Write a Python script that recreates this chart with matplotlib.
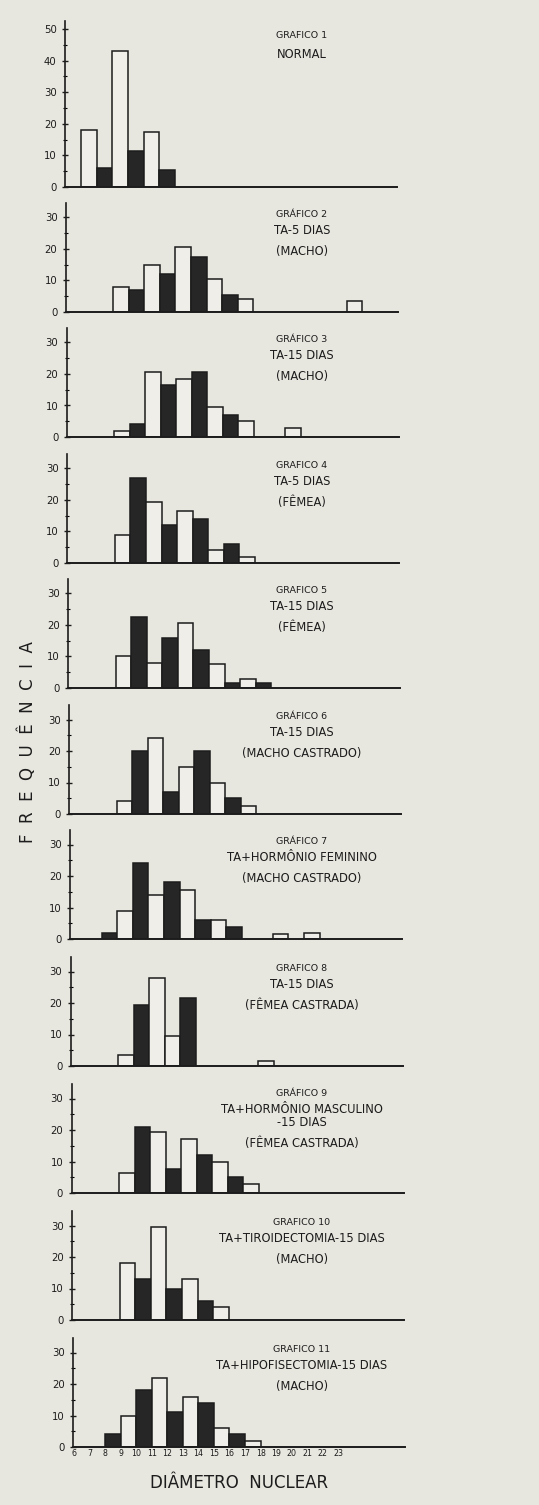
import numpy as np
import matplotlib.pyplot as plt

# frequencies per class of nuclear diameter
# each list starts at the class given in start_bins; 0 = no bar
start_bins = [7, 9, 9, 9, 9, 9, 8, 9, 9, 9, 8]

freq_1 = [18, 6, 43, 11.5, 17.5, 5.5]
freq_2 = [8, 7, 15, 12, 20.5, 17.5, 10.5, 5.5, 4, 0, 0, 0, 0, 0, 0, 3.5]
freq_3 = [2, 4, 20.5, 16.5, 18.5, 20.5, 9.5, 7, 5, 0, 0, 3]
freq_4 = [9, 27, 19.5, 12, 16.5, 14, 4, 6, 2]
freq_5 = [10, 22.5, 8, 16, 20.5, 12, 7.5, 1.5, 3, 1.5]
freq_6 = [4, 20, 24, 7, 15, 20, 10, 5, 2.5]
freq_7 = [2, 9, 24, 14, 18, 15.5, 6, 6, 3.7, 0, 0, 1.5, 0, 1.8]
freq_8 = [3.5, 19.5, 28, 9.5, 21.5, 0, 0, 0, 0, 1.5]
freq_9 = [6.5, 21, 19.5, 7.5, 17, 12, 10, 5, 3]
freq_10 = [18, 13, 29.5, 10, 13, 6, 4]
freq_11 = [4, 10, 18, 22, 11, 16, 14, 6, 4, 2]

# classes drawn as dark (filled) bars
black_1 = [8, 10, 12]
black_2 = [10, 12, 14, 16]
black_3 = [10, 12, 14, 16]
black_4 = [10, 12, 14, 16]
black_5 = [10, 12, 14, 16, 18]
black_6 = [10, 12, 14, 16]
black_7 = [8, 10, 12, 14, 16]
black_8 = [10, 13]
black_9 = [10, 12, 14, 16]
black_10 = [10, 12, 14]
black_11 = [8, 10, 12, 14, 16]

titles = [
    ["GRAFICO 1", "NORMAL"],
    ["GRÁFICO 2", "TA-5 DIAS", "(MACHO)"],
    ["GRÁFICO 3", "TA-15 DIAS", "(MACHO)"],
    ["GRAFICO 4", "TA-5 DIAS", "(FÊMEA)"],
    ["GRAFICO 5", "TA-15 DIAS", "(FÊMEA)"],
    ["GRÁFICO 6", "TA-15 DIAS", "(MACHO CASTRADO)"],
    ["GRÁFICO 7", "TA+HORMÔNIO FEMININO", "(MACHO CASTRADO)"],
    ["GRAFICO 8", "TA-15 DIAS", "(FÊMEA CASTRADA)"],
    ["GRÁFICO 9", "TA+HORMÔNIO MASCULINO", "-15 DIAS", "(FÊMEA CASTRADA)"],
    ["GRAFICO 10", "TA+TIROIDECTOMIA-15 DIAS", "(MACHO)"],
    ["GRAFICO 11", "TA+HIPOFISECTOMIA-15 DIAS", "(MACHO)"],
]

x_labels = [str(k) for k in range(6, 24)]

all_freq = [freq_1, freq_2, freq_3, freq_4, freq_5, freq_6,
            freq_7, freq_8, freq_9, freq_10, freq_11]
all_black = [black_1, black_2, black_3, black_4, black_5, black_6,
             black_7, black_8, black_9, black_10, black_11]

# page layout (pixels of the 539x1505 page)
W, H = 539, 1505
bg = "#e8e7df"
ink = "#1c1c1c"
zero_px = [187, 312, 437, 563, 688, 814, 939, 1066, 1193, 1320, 1447]

fig = plt.figure(figsize=(W / 100, H / 100), dpi=100, facecolor=bg)

for i in range(11):
    left = 65 + 0.82 * i
    if i == 0:
        ppu, ytop = 3.16, 52.5
    else:
        ppu, ytop = 3.15, 34.5
    ax = fig.add_axes([left / W, 1 - zero_px[i] / H, 332 / W, ytop * ppu / H])
    ax.set_facecolor("none")

    freq = np.array(all_freq[i], dtype=float)
    cls = start_bins[i] + np.arange(len(freq))
    keep = freq > 0
    colors = ["#262626" if c in all_black[i] else "#efeee8" for c in cls[keep]]
    ax.bar(cls[keep], freq[keep], width=1, align="edge", color=colors,
           edgecolor=ink, linewidth=1.1)

    ax.set_xlim(5.95, 27.3)
    ax.set_ylim(0, ytop)
    for s in ["top", "right"]:
        ax.spines[s].set_visible(False)
    ax.spines["left"].set_linewidth(1.2)
    ax.spines["bottom"].set_linewidth(1.4)
    ax.spines["left"].set_color(ink)
    ax.spines["bottom"].set_color(ink)

    top_tick = 50 if i == 0 else 30
    ax.set_yticks(np.arange(0, top_tick + 1, 10))
    ax.set_yticks(np.arange(5, top_tick, 10), minor=True)
    ax.tick_params(axis="y", which="major", direction="inout", length=4,
                   width=1, labelsize=7.3, pad=4, colors=ink)
    ax.tick_params(axis="y", which="minor", direction="inout", length=3, width=0.8)

    if i == 10:
        ax.set_xticks(range(6, 24))
        ax.set_xticklabels(x_labels)
        ax.tick_params(axis="x", length=0, labelsize=5.7, pad=1.5, colors=ink)
    else:
        ax.set_xticks([])

    # panel captions
    if i == 0:
        ys = [48, 42]
    elif len(titles[i]) == 4:
        ys = [31.7, 26.6, 22.5, 15.8]
    else:
        ys = [31, 25.8, 19.2]
    tx = (302 - left) / 332
    for j, (line, y) in enumerate(zip(titles[i], ys)):
        ax.text(tx, y, line, transform=ax.get_yaxis_transform(),
                ha="center", va="center", color=ink,
                fontsize=6.8 if j == 0 else 8.3)

fig.text(28 / W, 1 - 742 / H, "F  R  E  Q  U  Ê  N  C  I  A", rotation=90,
         ha="center", va="center", fontsize=12, color=ink)
fig.text(239 / W, 1 - 1483 / H, "DIÂMETRO  NUCLEAR",
         ha="center", va="center", fontsize=12, color=ink)

fig.savefig("out.png", dpi=100, facecolor=bg)
